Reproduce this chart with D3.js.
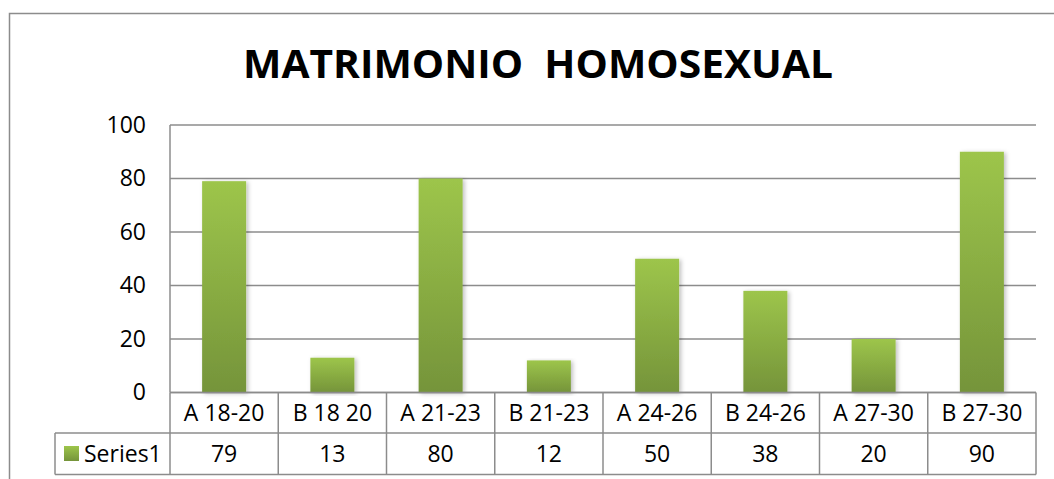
<!DOCTYPE html>
<html>
<head>
<meta charset="utf-8">
<script src="https://cdn.jsdelivr.net/npm/d3@7"></script>
<style>
	body { margin: 0; background: #fff; }
	svg { display: block; font-family: "Open Sans", sans-serif; }
</style>
</head>
<body>
<script>
// chart data
var categories = ["A 18-20", "B 18 20", "A 21-23", "B 21-23", "A 24-26", "B 24-26", "A 27-30", "B 27-30"];
var values = [79, 13, 80, 12, 50, 38, 20, 90];
var seriesName = "Series1";
var yTicks = [0, 20, 40, 60, 80, 100];
var title = "MATRIMONIO  HOMOSEXUAL";

var W = 1054, H = 479;
var plot = { left: 170, right: 1036, top: 125, bottom: 392.5 };
var rowH = 41;
var legendLeft = 55;
var grid = "#8c8c8c";

var svg = d3.select("body").append("svg")
	.attr("width", W)
	.attr("height", H);

var defs = svg.append("defs");
var grad = defs.append("linearGradient")
	.attr("id", "barGrad")
	.attr("x1", 0).attr("y1", 0).attr("x2", 0).attr("y2", 1);
grad.append("stop").attr("offset", "0%").attr("stop-color", "#9dc54b");
grad.append("stop").attr("offset", "100%").attr("stop-color", "#75943a");

var shadow = defs.append("filter")
	.attr("id", "shadow")
	.attr("x", "-20%").attr("y", "-5%")
	.attr("width", "150%").attr("height", "115%");
shadow.append("feDropShadow")
	.attr("dx", 2).attr("dy", 1)
	.attr("stdDeviation", 2)
	.attr("flood-color", "#000")
	.attr("flood-opacity", 0.25);

// outer chart frame (runs off the right and bottom edges)
svg.append("path")
	.attr("d", "M9.5," + (H + 5) + "V13.5H" + (W + 5))
	.attr("fill", "none")
	.attr("stroke", grid)
	.attr("stroke-width", 1.5);

svg.append("text")
	.attr("x", 538)
	.attr("y", 78)
	.attr("text-anchor", "middle")
	.attr("font-size", 40)
	.attr("font-weight", "bold")
	.attr("textLength", 590)
	.attr("lengthAdjust", "spacingAndGlyphs")
	.attr("xml:space", "preserve")
	.style("white-space", "pre")
	.text(title);

var x = d3.scaleBand()
	.domain(categories)
	.range([plot.left, plot.right])
	.padding(0);

var y = d3.scaleLinear()
	.domain([0, 100])
	.range([plot.bottom, plot.top]);

// gridlines
svg.append("g").selectAll("line")
	.data(yTicks)
	.enter().append("line")
		.attr("x1", plot.left)
		.attr("x2", plot.right)
		.attr("y1", function(d) { return y(d); })
		.attr("y2", function(d) { return y(d); })
		.attr("stroke", grid)
		.attr("stroke-width", 1.5);

// y axis line
svg.append("line")
	.attr("x1", plot.left).attr("x2", plot.left)
	.attr("y1", plot.top).attr("y2", plot.bottom)
	.attr("stroke", grid)
	.attr("stroke-width", 1.5);

var yAxis = d3.axisLeft(y)
	.tickValues(yTicks)
	.tickSize(0)
	.tickPadding(24);
var yg = svg.append("g")
	.attr("transform", "translate(" + plot.left + ",0)")
	.call(yAxis);
yg.select(".domain").remove();
yg.selectAll("text")
	.attr("font-size", 23)
	.attr("font-family", "Open Sans, sans-serif")
	.attr("fill", "#000");

// bars
var barW = 44;
svg.append("g").selectAll("rect")
	.data(values)
	.enter().append("rect")
		.attr("x", function(d, i) { return x(categories[i]) + x.bandwidth() / 2 - barW / 2; })
		.attr("y", function(d) { return y(d); })
		.attr("width", barW)
		.attr("height", function(d) { return y(0) - y(d); })
		.attr("fill", "url(#barGrad)")
		.attr("filter", "url(#shadow)");

// data table
var t1 = plot.bottom, t2 = plot.bottom + rowH - 0.5, t3 = t2 + rowH + 0.5;
var table = svg.append("g")
	.attr("stroke", grid)
	.attr("stroke-width", 1.5);
table.append("line").attr("x1", plot.left).attr("x2", plot.right).attr("y1", t1).attr("y2", t1);
table.append("line").attr("x1", legendLeft).attr("x2", plot.right).attr("y1", t2).attr("y2", t2);
table.append("line").attr("x1", legendLeft).attr("x2", plot.right).attr("y1", t3).attr("y2", t3);
table.append("line").attr("x1", legendLeft).attr("x2", legendLeft).attr("y1", t2).attr("y2", t3);
table.selectAll(".col")
	.data(categories.concat(["end"]))
	.enter().append("line")
		.attr("class", "col")
		.attr("x1", function(d) { return d === "end" ? plot.right : x(d); })
		.attr("x2", function(d) { return d === "end" ? plot.right : x(d); })
		.attr("y1", t1)
		.attr("y2", t3);

svg.append("g").selectAll("text")
	.data(categories)
	.enter().append("text")
		.attr("x", function(d) { return x(d) + x.bandwidth() / 2; })
		.attr("y", (t1 + t2) / 2 + 8)
		.attr("text-anchor", "middle")
		.attr("font-size", 23)
		.text(function(d) { return d; });

svg.append("g").selectAll("text")
	.data(values)
	.enter().append("text")
		.attr("x", function(d, i) { return x(categories[i]) + x.bandwidth() / 2; })
		.attr("y", (t2 + t3) / 2 + 8)
		.attr("text-anchor", "middle")
		.attr("font-size", 23)
		.text(function(d) { return d; });

// legend key
svg.append("rect")
	.attr("x", 64)
	.attr("y", 446)
	.attr("width", 15)
	.attr("height", 15)
	.attr("fill", "url(#barGrad)");
svg.append("text")
	.attr("x", 84)
	.attr("y", (t2 + t3) / 2 + 8)
	.attr("font-size", 23)
	.text(seriesName);
</script>
</body>
</html>
